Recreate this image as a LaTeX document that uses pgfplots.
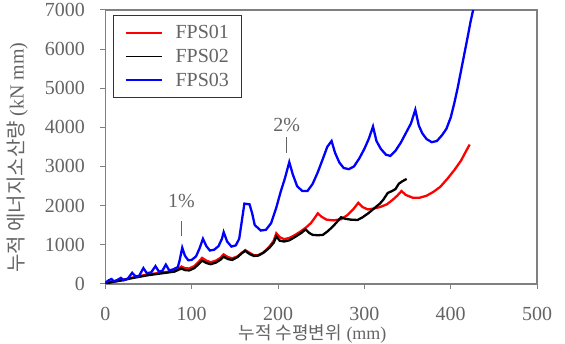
\documentclass[border=0pt]{standalone}
\usepackage{pgfplots}
\pgfplotsset{compat=1.18}
\usepackage{fontspec}
\setmainfont{Liberation Serif}
\newfontfamily\kr{Noto Sans CJK KR}
\definecolor{txtgray}{RGB}{100,100,100}
\definecolor{axgray}{RGB}{128,128,128}
\pgfplotsset{mylegline/.style={legend image code/.code={\draw[##1, line width=1.8pt] (0pt,0pt) -- (36pt,0pt);}}}
\begin{document}
\begin{tikzpicture}
\begin{axis}[
  scale only axis, width=432pt, height=274pt,
  xmin=0, xmax=500, ymin=0, ymax=7000,
  xtick={0,100,...,500}, ytick={0,1000,...,7000},
  axis line style={axgray, line width=1.6pt},
  tick style={axgray, line width=1pt},
  tick align=outside, major tick length=5pt,
  xtick pos=bottom, ytick pos=left,
  font=\fontsize{20}{23}\selectfont,
  tick label style={txtgray, font=\fontsize{20}{23}\selectfont},
  xticklabel style={yshift=-15pt},
  yticklabel style={xshift=-12pt},
  /pgf/number format/assume math mode=true,
  /pgf/number format/set thousands separator={},
  legend style={at={(0.0185,0.982)}, anchor=north west, draw=black!80, line width=0.8pt,
    font=\fontsize{20}{23}\selectfont, text=txtgray, row sep=5pt, inner xsep=11pt, inner ysep=8pt,
    /tikz/every odd column/.append style={column sep=11pt}},
  legend cell align=left,
  every axis plot/.append style={line width=2.3pt},
]
\addplot[red, mylegline] coordinates {(0,20)(10,60)(20,100)(30,150)(40,200)(50,240)(60,270)(70,300)(80,330)(85,380)(88,440)(92,400)(97,390)(103,450)(108,560)(112,660)(117,590)(122,550)(128,590)(133,660)(137,750)(142,680)(147,650)(153,700)(158,790)(162,860)(167,790)(172,730)(177,730)(183,800)(190,950)(195,1100)(198,1290)(202,1190)(207,1140)(213,1170)(220,1250)(227,1350)(233,1450)(238,1550)(243,1700)(246,1800)(250,1720)(256,1640)(264,1620)(273,1650)(280,1750)(287,1900)(293,2070)(298,1960)(304,1900)(310,1920)(318,1960)(326,2030)(333,2150)(338,2250)(343,2370)(348,2270)(356,2200)(364,2200)(372,2250)(380,2350)(388,2480)(396,2680)(404,2900)(412,3150)(418,3400)(422,3560)};
\addlegendentry{FPS01}
\addplot[black, mylegline] coordinates {(0,10)(10,50)(20,90)(30,140)(40,180)(50,220)(60,250)(70,280)(80,310)(85,360)(88,390)(92,350)(97,340)(103,400)(108,500)(112,590)(117,530)(122,500)(128,540)(133,610)(137,690)(142,630)(147,610)(153,680)(158,780)(162,840)(167,760)(172,710)(177,720)(183,790)(190,920)(195,1050)(198,1210)(202,1100)(207,1080)(213,1110)(220,1200)(227,1300)(232,1390)(236,1300)(240,1250)(246,1240)(252,1250)(258,1350)(265,1500)(273,1700)(278,1660)(284,1640)(292,1630)(298,1700)(305,1810)(312,1940)(318,2050)(322,2150)(327,2320)(332,2370)(336,2420)(340,2560)(344,2620)(349,2680)};
\addlegendentry{FPS02}
\addplot[blue, mylegline] coordinates {(0,30)(4,90)(7,120)(10,60)(14,100)(18,150)(21,90)(26,130)(31,280)(35,190)(39,200)(44,400)(48,270)(53,290)(58,450)(62,310)(66,330)(70,490)(74,340)(79,370)(84,430)(86,600)(89,920)(92,720)(96,600)(100,610)(105,700)(109,900)(113,1150)(117,960)(121,850)(126,870)(131,960)(135,1150)(137,1320)(141,1080)(146,950)(151,980)(155,1150)(158,1600)(161,2050)(167,2030)(170,1800)(173,1500)(180,1360)(186,1380)(192,1550)(198,1950)(203,2350)(208,2700)(213,3110)(217,2800)(222,2500)(228,2370)(234,2370)(240,2550)(246,2850)(252,3200)(257,3500)(262,3650)(266,3350)(271,3100)(276,2960)(282,2930)(288,3000)(294,3200)(300,3450)(305,3700)(310,4020)(314,3650)(319,3450)(325,3300)(330,3270)(336,3400)(342,3600)(348,3850)(354,4100)(359,4450)(363,4050)(367,3850)(372,3700)(378,3620)(384,3650)(390,3800)(395,3960)(400,4250)(404,4600)(408,5000)(412,5450)(416,5900)(420,6350)(423,6700)(426,7000)};
\addlegendentry{FPS03}
\draw[txtgray, line width=1pt] (axis cs:88,1220) -- (axis cs:88,1600);
\node[txtgray, font=\fontsize{20}{23}\selectfont] at (axis cs:88,2110) {1\%};
\draw[txtgray, line width=1pt] (axis cs:210,3355) -- (axis cs:210,3740);
\node[txtgray, font=\fontsize{20}{23}\selectfont] at (axis cs:210,4070) {2\%};
\coordinate (YL) at ([xshift=-88pt]rel axis cs:0,0.461);
\coordinate (XL) at ([yshift=-50pt]rel axis cs:0.48,0);
\coordinate (SW) at (rel axis cs:0,0);
\coordinate (NE) at (rel axis cs:1,1);
\end{axis}
\node[txtgray, rotate=90, font=\fontsize{20}{23}\selectfont] at (YL) {{\kr 누적 에너지소산량} (kN mm)};
\node[txtgray, font=\fontsize{18}{21}\selectfont] at (XL) {{\kr 누적 수평변위} (mm)};
\pgfresetboundingbox
\path[use as bounding box] ([xshift=-105.5pt,yshift=-60pt]SW) rectangle ([xshift=28pt,yshift=10pt]NE);
\end{tikzpicture}
\end{document}
